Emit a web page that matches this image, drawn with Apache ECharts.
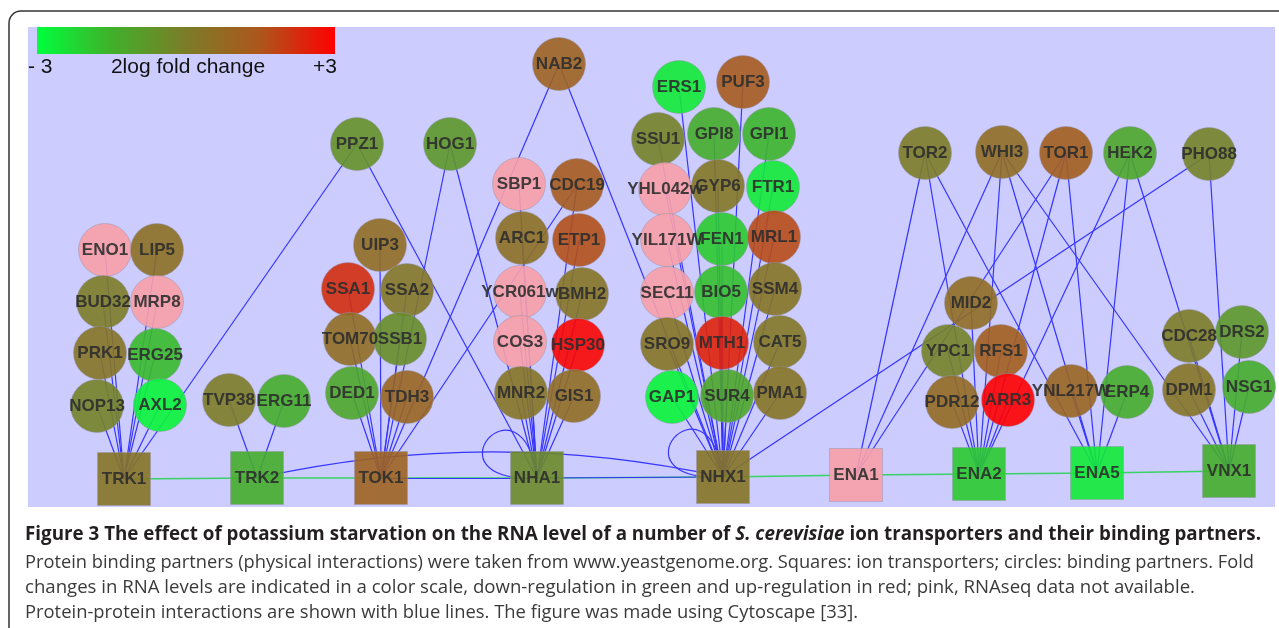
<!DOCTYPE html>
<html><head><meta charset="utf-8">
<script src="https://cdn.jsdelivr.net/npm/echarts@6/dist/echarts.min.js"></script>
<style>html,body{margin:0;padding:0;background:#fff}#c{width:1279px;height:628px}</style>
</head><body><div id="c"></div>
<script>
// ---------- data ----------
const transporters   = ['TRK1','TRK2','TOK1','NHA1','NHX1','ENA1','ENA2','ENA5','VNX1'];
const transporterX   = [124, 257, 381, 537, 723, 856, 979, 1097, 1229];
const transporterY   = [479, 478, 478, 478, 477, 475, 474, 473, 471];
const transporterFold= [0.3, -1.4, 1.0, -0.4, 0.3, null, -2.0, -2.6, -1.4];

const partners = ['ENO1','LIP5','BUD32','MRP8','PRK1','ERG25','NOP13','AXL2',
  'TVP38','ERG11','PPZ1','HOG1','UIP3','SSA1','SSA2','TOM70','SSB1','DED1','TDH3',
  'NAB2','SBP1','CDC19','ARC1','ETP1','YCR061w','BMH2','COS3','HSP30','MNR2','GIS1',
  'ERS1','PUF3','SSU1','GPI8','GPI1','YHL042w','GYP6','FTR1','YIL171W','FEN1','MRL1',
  'SEC11','BIO5','SSM4','SRO9','MTH1','CAT5','GAP1','SUR4','PMA1',
  'TOR2','WHI3','TOR1','HEK2','PHO88','MID2','YPC1','RFS1','PDR12','ARR3','YNL217W','ERP4',
  'CDC28','DRS2','DPM1','NSG1'];
const partnerX = [105,157,103,157,100,155,97,160,
  229,284,357,450,380,348,407,350,400,352,407,
  559,519,577,522,579,520,582,520,578,521,574,
  679,743,658,714,769,665,718,773,667,722,774,
  667,721,775,667,722,780,672,727,780,
  925,1002,1066,1130,1209,971,948,1001,952,1008,1071,1127,
  1189,1242,1189,1249];
const partnerY = [250,250,302,302,353,355,406,405,
  400,401,144,144,245,289,290,339,339,393,397,
  64,184,185,238,240,292,294,342,345,393,396,
  87,82,139,134,134,189,186,187,240,239,237,
  293,292,289,344,343,342,397,396,393,
  153,152,153,153,154,303,351,351,402,400,391,392,
  336,332,390,387];
// 2log fold change; null = RNAseq data not available (pink)
const partnerFold = [null,0.5,0.0,null,0.3,-1.7,-0.2,-2.8,
  0.0,-1.4,-0.6,-0.8,0.6,2.2,0.2,0.6,-0.5,-1.2,0.9,
  1.0,null,1.3,0.5,1.6,null,0.3,null,2.9,0.3,0.6,
  -2.6,1.3,-0.2,-1.4,-1.6,null,0.2,-2.6,null,-2.0,1.7,
  null,-1.8,0.3,0.3,2.4,0.2,-2.8,-1.2,0.3,
  0.0,0.6,1.2,-1.2,-0.2,0.6,-0.2,1.2,0.7,3.0,0.9,-1.4,
  0.0,-0.8,0.3,-1.4];

const trk1Partners = ['ENO1','LIP5','BUD32','MRP8','PRK1','ERG25','NOP13','AXL2','PPZ1'];
const trk2Partners = ['TVP38','ERG11'];
const tok1Partners = ['UIP3','SSA1','SSA2','TOM70','SSB1','DED1','TDH3','HOG1','NAB2','CDC19'];
const nha1Partners = ['PPZ1','HOG1','SBP1','CDC19','ARC1','ETP1','YCR061w','BMH2','COS3','HSP30','MNR2','GIS1'];
const nhx1Partners = ['NAB2','ERS1','PUF3','SSU1','GPI8','GPI1','YHL042w','GYP6','FTR1','YIL171W','FEN1','MRL1',
  'SEC11','BIO5','SSM4','SRO9','MTH1','CAT5','GAP1','SUR4','PMA1','PHO88'];
const ena1Partners = ['TOR2','WHI3','TOR1'];
const ena2Partners = ['TOR2','WHI3','TOR1','HEK2','MID2','YPC1','RFS1','PDR12','ARR3'];
const ena5Partners = ['TOR2','WHI3','TOR1','HEK2','YNL217W','ERP4'];
const vnx1Partners = ['WHI3','HEK2','PHO88','CDC28','DRS2','DPM1','NSG1'];
const transporterPairs = [['TOK1','NHA1'],['NHA1','NHX1']];
const curvedPairs = [['TRK2','NHX1']];
const selfLoops = ['NHA1','NHX1'];

const legendTicks = ['- 3','2log fold change','+3'];
const captionTitle = ['Figure 3 The effect of potassium starvation on the RNA level of a number of ','S. cerevisiae',' ion transporters and their binding partners.'];
const captionLines = [
 'Protein binding partners (physical interactions) were taken from www.yeastgenome.org. Squares: ion transporters; circles: binding partners. Fold',
 'changes in RNA levels are indicated in a color scale, down-regulation in green and up-regulation in red; pink, RNAseq data not available.',
 'Protein-protein interactions are shown with blue lines. The figure was made using Cytoscape [33].'
];

// ---------- styling ----------
const scaleStops = [[-3,'#00ff3c'],[-1.5,'#40b02a'],[0,'#7c7c28'],[1.5,'#ad561c'],[3,'#ff0000']];
const naColor = '#f8a0a8';
function hex2rgb(h){return [1,3,5].map(i=>parseInt(h.substr(i,2),16));}
function foldColor(v){
  if (v === null || v === undefined) return naColor;
  v = Math.max(-3, Math.min(3, v));
  for (let i=0;i<scaleStops.length-1;i++){
    const a=scaleStops[i], b=scaleStops[i+1];
    if (v>=a[0] && v<=b[0]){
      const t=(v-a[0])/(b[0]-a[0]); const ca=hex2rgb(a[1]), cb=hex2rgb(b[1]);
      return 'rgb('+ca.map((c,k)=>Math.round(c+(cb[k]-c)*t)).join(',')+')';
    }
  }
  return naColor;
}

const nodes = [];
partners.forEach((n,i)=>nodes.push({name:n, value:[partnerX[i],partnerY[i]], symbol:'circle',
  itemStyle:{color:foldColor(partnerFold[i])}}));
transporters.forEach((n,i)=>nodes.push({name:n, value:[transporterX[i],transporterY[i]], symbol:'rect',
  itemStyle:{color:foldColor(transporterFold[i])}}));

const blue = '#3535ff', green = '#2fd35a';
const links = [];
for (let i=0;i<transporters.length-1;i++)
  links.push({source:transporters[i], target:transporters[i+1], lineStyle:{color:green, width:1.5, opacity:0.95}});
transporterPairs.forEach(p=>links.push({source:p[0], target:p[1]}));
curvedPairs.forEach(p=>links.push({source:p[0], target:p[1], lineStyle:{curveness:0.11}}));
[['TRK1',trk1Partners],['TRK2',trk2Partners],['TOK1',tok1Partners],['NHA1',nha1Partners],['NHX1',nhx1Partners],
 ['ENA1',ena1Partners],['ENA2',ena2Partners],['ENA5',ena5Partners],['VNX1',vnx1Partners]]
 .forEach(([t,list])=>list.forEach(p=>links.push({source:p, target:t})));

// ---------- caption fitting ----------
const ctx = document.createElement('canvas').getContext('2d');
function tw(text, font){ctx.font=font; return ctx.measureText(text).width;}
const capFam = '"Open Sans", "Noto Sans", sans-serif';
const fB = 'bold 19px '+capFam, fBI = 'italic bold 19px '+capFam, fR = '19px '+capFam;
const titleW = tw(captionTitle[0],fB)+tw(captionTitle[1],fBI)+tw(captionTitle[2],fB);
const lineTargets = [1254-25, 1195-25, 858-25];
const lineY = [563, 588, 613];
const legFont = '21px "Liberation Sans", Arial, sans-serif';

const graphics = [
  {type:'rect', z:-30, shape:{x:9,y:11,width:1320,height:640,r:12}, style:{fill:'#fff', stroke:'#333', lineWidth:1.5}},
  {type:'rect', z:-20, shape:{x:28,y:27,width:1247,height:480}, style:{fill:'#ccccff'}},
  {type:'rect', z:-10, shape:{x:37,y:27,width:298,height:27}, style:{fill:new echarts.graphic.LinearGradient(0,0,1,0,
     scaleStops.map(s=>({offset:(s[0]+3)/6, color:s[1]})))}},
  {type:'text', x:28, y:67, style:{text:legendTicks[0], font:legFont, fill:'#111', verticalAlign:'middle'}},
  {type:'text', x:188, y:67, style:{text:legendTicks[1], font:legFont, fill:'#111', align:'center', verticalAlign:'middle'}},
  {type:'text', x:337, y:67, style:{text:legendTicks[2], font:legFont, fill:'#111', align:'right', verticalAlign:'middle'}},
  {type:'text', x:25, y:535, scaleX:(1261-25)/titleW, style:{
     text:'{b|'+captionTitle[0]+'}{i|'+captionTitle[1]+'}{b|'+captionTitle[2]+'}',
     verticalAlign:'middle',
     rich:{b:{font:fB, fill:'#231f20'}, i:{font:fBI, fill:'#231f20'}}}}
];
captionLines.forEach((t,i)=>graphics.push({type:'text', x:25, y:lineY[i], scaleX:lineTargets[i]/tw(t,fR),
  style:{text:t, font:fR, fill:'#3a3a3a', verticalAlign:'middle'}}));

const chart = echarts.init(document.getElementById('c'), null, {renderer:'canvas'});
chart.setOption({
  animation:false,
  backgroundColor:'#fff',
  grid:{left:0,right:0,top:0,bottom:0},
  xAxis:{type:'value', min:0, max:1279, show:false},
  yAxis:{type:'value', min:0, max:628, inverse:true, show:false},
  graphic: graphics,
  series:[
    {type:'custom', coordinateSystem:'cartesian2d', z:2, silent:true,
     data: selfLoops.map(n=>{const i=transporters.indexOf(n); return [transporterX[i], transporterY[i]];}),
     renderItem:(params, api)=>{
       const p = api.coord([api.value(0), api.value(1)]);
       return {type:'bezierCurve', shape:{x1:p[0],y1:p[1],x2:p[0],y2:p[1],cpx1:p[0]-115,cpy1:p[1]+5,cpx2:p[0]-15,cpy2:p[1]-110},
               style:{stroke:blue, fill:'none', lineWidth:1.2}};
     }},
    {type:'graph', coordinateSystem:'cartesian2d', z:3, silent:true,
     data:nodes, links:links, symbolSize:53,
     itemStyle:{opacity:0.9, borderColor:'rgba(150,150,170,0.55)', borderWidth:1},
     lineStyle:{color:blue, width:1.2, opacity:1},
     label:{show:true, position:'inside', color:'#2e2e2e', fontWeight:'bold', fontSize:17,
            fontFamily:'"Liberation Sans", Arial, sans-serif'},
     emphasis:{disabled:true}}
  ]
});
</script></body></html>
